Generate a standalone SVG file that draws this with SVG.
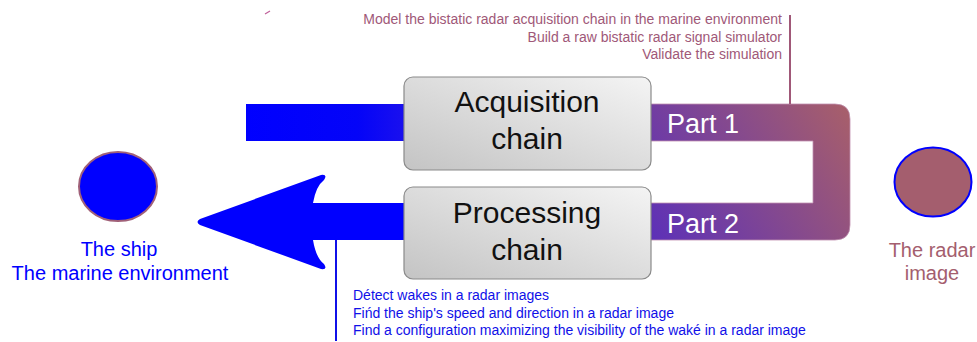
<svg xmlns="http://www.w3.org/2000/svg" width="977" height="342" viewBox="0 0 977 342">
<style>
.box{stroke:#8a8a8a;stroke-width:1.2;fill:url(#boxg)}
.boxt{font-family:"Liberation Sans",Arial,sans-serif;font-size:30px;fill:#111;text-anchor:middle}
.part{font-family:"Liberation Sans",Arial,sans-serif;font-size:27px;fill:#fff}
.tr{font-family:"Liberation Sans",Arial,sans-serif;font-size:14px;fill:#a05878;text-anchor:end}
.bl{font-family:"Liberation Sans",Arial,sans-serif;font-size:14px;fill:#1010e8}
.lbl{font-family:"Liberation Sans",Arial,sans-serif;font-size:20px;text-anchor:middle}
</style>
<defs>
<linearGradient id="boxg" x1="0" y1="1" x2="1" y2="0">
<stop offset="0" stop-color="#c4c4c4"/>
<stop offset="1" stop-color="#f4f4f4"/>
</linearGradient>
<linearGradient id="bandg" gradientUnits="userSpaceOnUse" x1="650" y1="240" x2="850" y2="120">
<stop offset="0" stop-color="#5c30b8"/>
<stop offset="1" stop-color="#a65e6c"/>
</linearGradient>
<linearGradient id="barg" gradientUnits="userSpaceOnUse" x1="246" y1="0" x2="405" y2="0">
<stop offset="0" stop-color="#0000ff"/>
<stop offset="0.7" stop-color="#0404f8"/>
<stop offset="1" stop-color="#1a10ee"/>
</linearGradient>
</defs>
<g id="connectors">
<rect x="246" y="104" width="160" height="37" fill="url(#barg)"/>
<path d="M404,203 L313,203 Q316,186 324,180 Q328,174 321,175 L200,219 Q195,222 200,225 L321,269 Q328,270 324,264 Q316,258 313,240 L404,240 Z" fill="#0000ff"/>
<path d="M650,104 L835,104 Q850,104 850,119 L850,225 Q850,240 835,240 L650,240 L650,203 L813,203 L813,141 L650,141 Z" fill="url(#bandg)" stroke="#c090b0" stroke-width="0.8"/>
<line x1="790" y1="15" x2="790" y2="104" stroke="#a05878" stroke-width="2"/>
<line x1="336" y1="240" x2="336" y2="341" stroke="#1010e8" stroke-width="2"/>
<line x1="265" y1="14" x2="270" y2="11" stroke="#c0609a" stroke-width="1.2"/>
</g>
<g id="acquisition">
<rect class="box" x="404" y="77" width="247" height="93" rx="9"/>
<text class="boxt" x="527" y="112">Acquisition</text>
<text class="boxt" x="527" y="149">chain</text>
</g>
<g id="processing">
<rect class="box" x="404" y="187" width="247" height="92" rx="9"/>
<text class="boxt" x="527" y="223">Processing</text>
<text class="boxt" x="527" y="260">chain</text>
</g>
<g id="part1"><text class="part" x="667" y="133">Part 1</text></g>
<g id="part2"><text class="part" x="667" y="233">Part 2</text></g>
<g id="ship">
<ellipse cx="118" cy="186.5" rx="39" ry="34.5" fill="#0000ff" stroke="#a06078" stroke-width="2"/>
<text class="lbl" x="119" y="256" fill="#0000ff">The ship</text>
<text class="lbl" x="120" y="280" fill="#0000ff">The marine environment</text>
</g>
<g id="radar">
<ellipse cx="933" cy="182" rx="38.5" ry="34.5" fill="#a45e6e" stroke="#0000ff" stroke-width="2"/>
<text class="lbl" x="932" y="257" fill="#a45e6e">The radar</text>
<text class="lbl" x="932" y="280" fill="#a45e6e">image</text>
</g>
<g id="part1-goals">
<text class="tr" x="782" y="24">Model the bistatic radar acquisition chain in the marine environment</text>
<text class="tr" x="782" y="42">Build a raw bistatic radar signal simulator</text>
<text class="tr" x="782" y="59">Validate the simulation</text>
</g>
<g id="part2-goals">
<text class="bl" x="353" y="300">Détect wakes in a radar images</text>
<text class="bl" x="353" y="318">Fińd the ship's speed and direction in a radar image</text>
<text class="bl" x="353" y="335">Find a configuration maximizing the visibility of the waké in a radar image</text>
</g>
</svg>
